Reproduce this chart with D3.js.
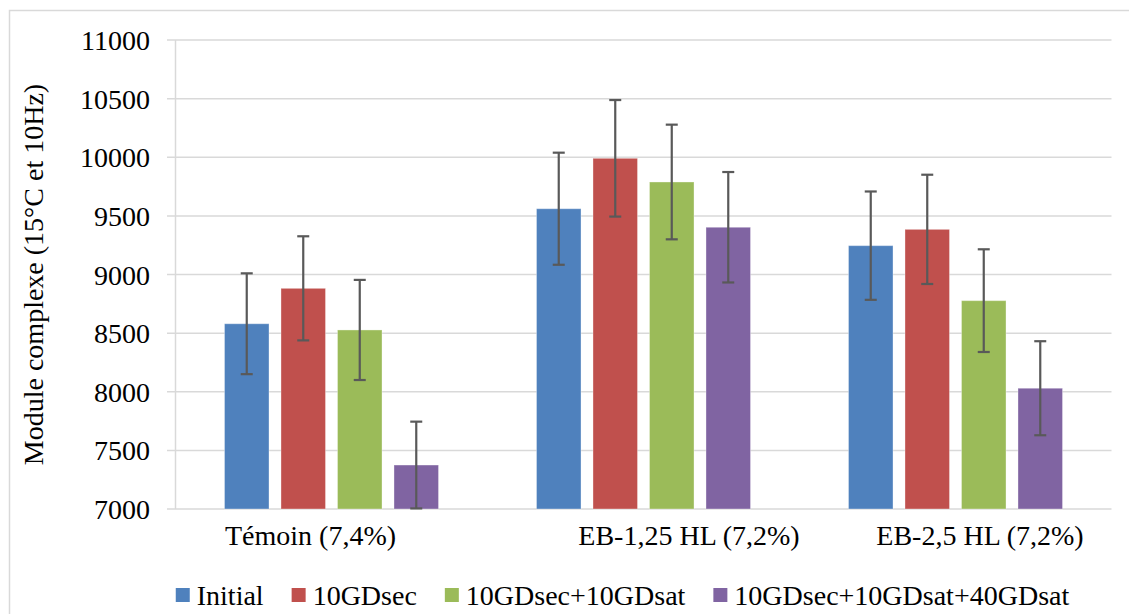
<!DOCTYPE html>
<html>
<head>
<meta charset="utf-8">
<script src="https://cdn.jsdelivr.net/npm/d3@7"></script>
<style>
  html, body { margin: 0; padding: 0; background: #fff; }
  svg text { font-family: "Liberation Serif", "Times New Roman", serif; fill: #000; }
</style>
</head>
<body>
<svg id="chart" width="1129" height="614"></svg>
<script>
// ---- data ----
const categories = ["Témoin (7,4%)      ", "             EB-1,25 HL (7,2%)", "       EB-2,5 HL (7,2%)"];
const seriesNames = ["Initial", "10GDsec", "10GDsec+10GDsat", "10GDsec+10GDsat+40GDsat"];
const seriesColors = ["#4F81BD", "#C0504D", "#9BBB59", "#8064A2"];
const valuesInitial = [8580, 9561, 9246];
const values10GDsec = [8882, 9991, 9385];
const values10GDsec10GDsat = [8527, 9789, 8777];
const values10GDsec10GDsat40GDsat = [7375, 9403, 8030];
const errInitial = [430, 478, 462];
const err10GDsec = [444, 497, 466];
const err10GDsec10GDsat = [427, 489, 438];
const err10GDsec10GDsat40GDsat = [370, 471, 401];
const yTicks = [7000, 7500, 8000, 8500, 9000, 9500, 10000, 10500, 11000];
const yTitle = "Module complexe (15°C et 10Hz)";

const seriesValues = [valuesInitial, values10GDsec, values10GDsec10GDsat, values10GDsec10GDsat40GDsat];
const seriesErrors = [errInitial, err10GDsec, err10GDsec10GDsat, err10GDsec10GDsat40GDsat];

// ---- layout ----
const svg = d3.select("#chart");
const plot = { left: 175.5, right: 1111.5, top: 40, bottom: 509 };
const gridColor = "#d9d9d9";
const fontSize = 28;

// chart area border
svg.append("rect")
  .attr("x", 9.5).attr("y", 10.5)
  .attr("width", 1200).attr("height", 700)
  .attr("fill", "#fff").attr("stroke", gridColor).attr("stroke-width", 1.5);

const y = d3.scaleLinear().domain([7000, 11000]).range([plot.bottom, plot.top]);
const x0 = d3.scaleBand().domain(categories).range([plot.left, plot.right]).paddingInner(0).paddingOuter(0);
const bw = x0.bandwidth();
const x1 = d3.scaleBand().domain(seriesNames)
  .range([bw * 0.157, bw * 0.843]).paddingInner(0.212).paddingOuter(0);

// gridlines
svg.append("g").selectAll("line").data(yTicks).join("line")
  .attr("x1", plot.left - 8.5).attr("x2", plot.right)
  .attr("y1", d => y(d)).attr("y2", d => y(d))
  .attr("stroke", gridColor).attr("stroke-width", 1.5);

// y axis line
svg.append("line")
  .attr("x1", plot.left).attr("x2", plot.left)
  .attr("y1", plot.top).attr("y2", plot.bottom)
  .attr("stroke", gridColor).attr("stroke-width", 1.5);

// y tick labels via d3 axis
const yAxis = d3.axisLeft(y).tickValues(yTicks).tickSize(0).tickPadding(0).tickFormat(d3.format("d"));
const gy = svg.append("g").attr("transform", `translate(${plot.left - 25.5},0)`).call(yAxis);
gy.attr("font-family", null);
gy.select(".domain").remove();
gy.selectAll("text")
  .attr("font-size", fontSize).attr("fill", "#000").attr("dy", "0.34em");

// bars
const groups = svg.append("g").selectAll("g").data(categories).join("g")
  .attr("transform", d => `translate(${x0(d)},0)`);

groups.each(function(cat, ci) {
  const g = d3.select(this);
  seriesNames.forEach((s, si) => {
    const v = seriesValues[si][ci];
    const e = seriesErrors[si][ci];
    const bx = x1(s);
    const w = x1.bandwidth();
    g.append("rect")
      .attr("x", bx).attr("y", y(v))
      .attr("width", w).attr("height", y(7000) - y(v))
      .attr("fill", seriesColors[si])
      .attr("stroke", "rgba(255,255,255,0.35)").attr("stroke-width", 1);
    const cx = bx + w / 2;
    const lo = Math.max(7000, v - e), hi = v + e;
    const eg = g.append("g").attr("stroke", "#595959").attr("stroke-width", 2.2);
    eg.append("line").attr("x1", cx).attr("x2", cx).attr("y1", y(hi)).attr("y2", y(lo));
    eg.append("line").attr("x1", cx - 6).attr("x2", cx + 6).attr("y1", y(hi)).attr("y2", y(hi));
    eg.append("line").attr("x1", cx - 6).attr("x2", cx + 6).attr("y1", y(lo)).attr("y2", y(lo));
  });
});

// category labels via axis
const xAxis = d3.axisBottom(x0).tickSize(0).tickPadding(0);
const gx = svg.append("g").attr("transform", `translate(0,${plot.bottom})`).call(xAxis);
gx.attr("font-family", null);
gx.select(".domain").remove();
gx.selectAll("text")
  .attr("font-size", fontSize).attr("fill", "#000")
  .attr("dy", 36).style("white-space", "pre").attr("xml:space", "preserve");

// y title
svg.append("text")
  .attr("transform", `translate(43,274.5) rotate(-90)`)
  .attr("text-anchor", "middle").attr("font-size", fontSize)
  .text(yTitle);

// legend
const legend = svg.append("g");
const sw = 14, swGap = 7, itemGap = 28;
let cursor = 0;
seriesNames.forEach((s, i) => {
  const g = legend.append("g");
  g.append("rect").attr("x", 0).attr("y", -sw / 2).attr("width", sw).attr("height", sw).attr("fill", seriesColors[i]);
  const t = g.append("text").attr("x", sw + swGap).attr("y", 0).attr("dy", "0.34em")
    .attr("font-size", fontSize).text(s);
  const w = sw + swGap + t.node().getComputedTextLength();
  g.attr("transform", `translate(${cursor},0)`);
  cursor += w + itemGap;
});
const totalW = cursor - itemGap;
legend.attr("transform", `translate(${622.5 - totalW / 2},595)`);
</script>
</body>
</html>
